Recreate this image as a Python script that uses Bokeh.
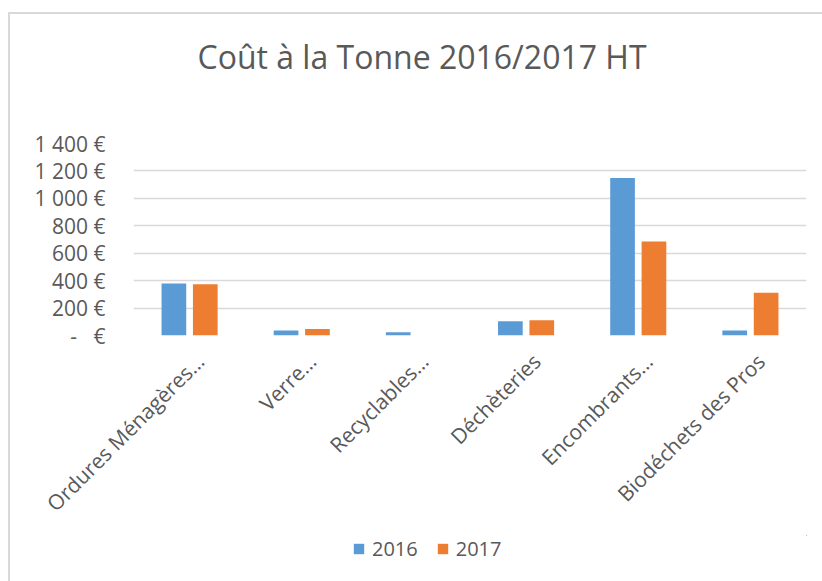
import math
from bokeh.plotting import figure
from bokeh.layouts import column
from bokeh.models import (ColumnDataSource, Range1d, FixedTicker, Title, Legend, LegendItem)
from bokeh.transform import dodge
from bokeh.embed import file_html
from bokeh.resources import INLINE

# ---- data ----
categories = ["Ordures Ménagères…", "Verre…", "Recyclables…", "Déchèteries",
              "Encombrants…", "Biodéchets des Pros"]
values_2016 = [379, 36, 23, 104, 1148, 36]
values_2017 = [373, 48, 0, 111, 686, 311]
series_names = ["2016", "2017"]
tick_values = [0, 200, 400, 600, 800, 1000, 1200, 1400]
tick_labels = ["-\u00a0\u00a0\u00a0€", "200\u00a0€", "400\u00a0€", "600\u00a0€", "800\u00a0€",
               "1\u00a0000\u00a0€", "1\u00a0200\u00a0€", "1\u00a0400\u00a0€"]
title_text = "Coût à la Tonne 2016/2017 HT"

FONT = "Open Sans"
TXT = "#595959"
BLUE = "#5B9BD5"
ORANGE = "#ED7D31"
GRID = "#D9D9D9"

n = len(categories)
centers = [i + 0.5 for i in range(n)]
label_pos = [i + 0.59375 for i in range(n)]  # rotated labels sit slightly right of centre

src = ColumnDataSource(dict(pos=centers, v2016=values_2016, v2017=values_2017))

# ---------------- main chart ----------------
p = figure(x_range=Range1d(0, n), y_range=Range1d(0, max(tick_values)),
           width=812, height=567, output_backend="svg", toolbar_location=None,
           min_border_left=123, min_border_right=16, min_border_top=129, min_border_bottom=246)
p.title.text = ""
p.outline_line_color = None
p.background_fill_color = "white"
p.border_fill_color = "white"

r1 = p.vbar(x=dodge("pos", -0.14), top="v2016", width=0.22, source=src,
            fill_color=BLUE, line_color=None)
r2 = p.vbar(x=dodge("pos", 0.14), top="v2017", width=0.22, source=src,
            fill_color=ORANGE, line_color=None)

# y axis
p.yaxis.ticker = FixedTicker(ticks=tick_values)
p.yaxis.major_label_overrides = {v: l for v, l in zip(tick_values, tick_labels)}
p.yaxis.axis_line_color = None
p.yaxis.major_tick_line_color = None
p.yaxis.minor_tick_line_color = None
p.yaxis.major_tick_out = 0
p.yaxis.major_tick_in = 0
p.yaxis.major_label_standoff = 28
p.yaxis.major_label_text_font = FONT
p.yaxis.major_label_text_font_size = "21px"
p.yaxis.major_label_text_color = TXT

# x axis (categories)
p.xaxis.ticker = FixedTicker(ticks=label_pos)
p.xaxis.major_label_overrides = {v: c for v, c in zip(label_pos, categories)}
p.xaxis.axis_line_color = None
p.xaxis.major_tick_line_color = None
p.xaxis.minor_tick_line_color = None
p.xaxis.major_tick_out = 0
p.xaxis.major_tick_in = 0
p.xaxis.major_label_orientation = math.pi / 4
p.xaxis.major_label_standoff = 22
p.xaxis.major_label_text_font = FONT
p.xaxis.major_label_text_font_size = "21px"
p.xaxis.major_label_text_color = TXT

p.xgrid.grid_line_color = None
p.ygrid.grid_line_color = GRID
p.ygrid.grid_line_width = 1.3

# title (spacer first = innermost, then the real title above it)
p.add_layout(Title(text=" ", text_font_size="10px", standoff=52), "above")
p.add_layout(Title(text=title_text, align="left", offset=64, vertical_align="middle",
                   text_font=FONT, text_font_size="32px", text_font_style="normal",
                   text_color=TXT, standoff=0), "above")

# ---------------- legend strip (overlaps bottom of main chart) ----------------
# its frame is aligned with the main chart's frame by the column layout;
# zero-width copies of the bars, far off-canvas, only feed the legend swatches
q = figure(x_range=Range1d(-3 * n, -2 * n), y_range=Range1d(-3000, -2000), width=812, height=46,
           output_backend="svg", toolbar_location=None,
           min_border_left=0, min_border_right=0, min_border_top=0, min_border_bottom=0)
q.styles = {"margin-top": "-46px"}
q.axis.visible = False
q.grid.grid_line_color = None
q.outline_line_color = None
q.background_fill_alpha = 0
q.border_fill_alpha = 0
q.title.text = ""
s1 = q.vbar(x=dodge("pos", -0.14), top="v2016", width=0, source=src,
            fill_color=BLUE, line_color=None)
s2 = q.vbar(x=dodge("pos", 0.14), top="v2017", width=0, source=src,
            fill_color=ORANGE, line_color=None)
legend = Legend(items=[LegendItem(label=series_names[0], renderers=[s1]),
                       LegendItem(label=series_names[1], renderers=[s2])],
                location=(219, 19), orientation="horizontal",
                glyph_width=13, glyph_height=13, label_standoff=7, spacing=18,
                padding=0, margin=0, border_line_color=None, background_fill_alpha=0,
                label_text_font=FONT, label_text_font_size="20px", label_text_color=TXT,
                label_height=20)
q.add_layout(legend, "center")

layout = column(p, q, spacing=0,
                styles={"margin-left": "8px", "margin-top": "12px",
                        "border-top": "2px solid #D9D9D9", "border-left": "2px solid #D9D9D9"})

open("out.html", "w").write(file_html(layout, INLINE))
